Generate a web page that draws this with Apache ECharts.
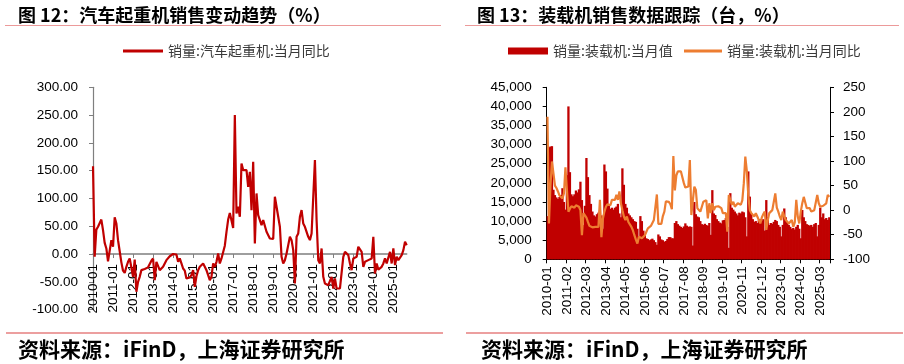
<!DOCTYPE html>
<html><head><meta charset="utf-8">
<script src="https://cdn.jsdelivr.net/npm/echarts/dist/echarts.min.js"></script>
<style>html,body{margin:0;padding:0;background:#fff}#c{width:904px;height:364px}</style>
</head><body><div id="c"></div>
<script>
// ---- categories ----
const startYear = 2010, monthCount = 189;
const months = [];
for (let i = 0; i < monthCount; i++) {
  const y = startYear + Math.floor(i / 12), m = i % 12 + 1;
  months.push(y + '-' + (m < 10 ? '0' : '') + m);
}
// ---- series values ----
const craneYoY = [
158,-5,44,49,50,62,43,20,10,-13,-12,25,
13,66,55,25,5,-15,-30,-34,-23,-14,-8,-5,
-41,-10,-68,-50,-41,-29,-26,-27,-29,-24,-23,-12,
-8,-47,-14,-17,-29,-32,-23,-17,-11,-8,-4,-2,
0,-2,-1,-14,-8,-17,-26,-30,-44,-44,-42,-38,
-29,-59,-40,-29,-23,-25,-17,-23,-29,-30,-47,-41,
-17,-23,-14,1,-17,-8,-5,15,40,62,74,72,
47,250,73,85,67,163,151,154,151,121,148,79,
166,19,109,70,70,52,61,61,40,37,28,26,
27,103,85,67,49,-5,-17,-11,1,16,31,25,
7,-53,31,37,67,79,55,49,49,31,25,37,
34,169,61,-11,-17,10,-41,-53,-56,-56,-56,-41,
-62,-44,-62,-65,-62,-65,-5,4,4,-2,-17,-29,
-8,-11,-5,13,13,4,-23,-14,-14,-11,-11,-8,
31,-35,-17,-28,-26,-23,-17,-8,-17,-14,4,-17,
10,-20,-5,-11,-8,-2,7,22,16];
const loaderSales = [
11300,29300,29500,29600,18200,16800,16200,15800,16300,16800,18600,15000,
13000,22000,40000,22800,17000,16500,17000,18000,17500,18300,20300,15500,
9000,14000,26500,21500,16800,14500,12500,11500,11200,11800,12200,12800,
11500,8000,24800,23000,18500,14000,13200,13500,13000,13500,13800,14500,
12000,11000,23800,19500,14500,13500,12000,11500,11000,10500,10000,9800,
8000,6000,11300,10000,7500,6500,5500,5300,5000,5200,5400,5000,
4500,3800,6500,6000,5200,5000,4600,4800,5300,5800,5800,5500,
5500,9500,10000,9200,8800,8500,8200,8600,9400,8800,8500,8600,
8500,3600,15000,11800,11200,11000,10000,9200,9000,9300,9000,8800,
9500,6400,18100,12000,11600,10500,10000,9600,9400,10200,10300,10800,
8500,3000,17300,13500,13000,12500,12000,11500,12200,12000,12500,12300,
11000,6000,23000,16400,12000,10500,9800,10000,9500,10200,10500,10000,
10500,7500,15500,11000,9000,9500,9300,9800,10300,10000,9000,8500,
6000,9000,13300,11000,9500,9000,8500,8000,8200,7800,8500,9000,
8000,5500,12900,11000,10000,9200,9000,8800,9000,8500,9200,9500,
6000,9000,13500,11000,12000,10500,10800,10300,11000];
const loaderYoY = [
190,-27,50,99,75,50,45,38,30,26,24,34,
87,41,-3,3,8,7,5,10,8,7,0,-51,
-6,-9,-15,-24,-32,-34,-35,-37,-34,-37,-34,21,
-55,-17,-3,7,12,14,10,21,18,21,31,21,
38,14,0,-13,-20,-13,-24,-20,-34,-41,-51,-60,
-68,-54,-54,-57,-57,-51,-44,-37,-34,-32,-30,-20,
-17,32,-28,-32,-28,-12,-3,18,15,17,12,2,
110,40,71,79,77,79,75,55,46,44,48,102,
-10,20,48,41,4,7,-3,7,17,20,20,-17,
14,-6,14,0,7,4,8,11,4,-6,-3,-6,
-44,31,27,11,17,7,10,14,11,11,20,55,
109,80,30,0,-6,-10,-13,-6,-13,-20,-27,-15,
-8,-3,-40,-20,-6,-3,0,0,34,5,-3,-13,
-20,-3,-13,-20,-24,-27,-24,-20,-34,-25,21,-13,
-27,-3,14,27,24,4,7,4,-3,-2,0,4,
31,14,7,11,9,7,14,31,27];
// ---- tick settings ----
const craneAxis = [-100, 300, 50];
const salesAxis = [0, 45000, 5000];
const yoyAxis = [-100, 250, 50];
const craneLabelEvery = 12, loaderLabelEvery = 13;

const nameCrane = '销量:汽车起重机:当月同比';
const nameSales = '销量:装载机:当月值';
const nameYoY = '销量:装载机:当月同比';

const axisFont = 'Liberation Sans';
const cjk = '"Noto Sans CJK SC"';
const fmtThousands = v => String(v).replace(/\B(?=(\d{3})+(?!\d))/g, ',');

const craneGridH = 222.3;
// distance from grid bottom (min) up to the zero line
const zeroOffset = -craneGridH * (0 - craneAxis[0]) / (craneAxis[1] - craneAxis[0]);

const chart = echarts.init(document.getElementById('c'));
chart.setOption({
  animation: false,
  backgroundColor: '#fff',
  grid: [
    {left: 93, top: 87.3, width: 313.7, height: craneGridH, containLabel: false, outerBoundsMode: 'none'},
    {left: 546.7, top: 87.3, width: 283.3, height: 172, containLabel: false, outerBoundsMode: 'none'}
  ],
  legend: [
    {data: [nameCrane], left: 123, top: 44, padding: 0, icon: 'rect', itemWidth: 40, itemHeight: 3,
     textStyle: {fontSize: 14, color: '#3a3a3a', fontFamily: cjk}},
    {data: [nameSales], left: 508, top: 44, padding: 0, icon: 'rect', itemWidth: 40, itemHeight: 7,
     textStyle: {fontSize: 14, color: '#3a3a3a', fontFamily: cjk}},
    {data: [nameYoY], left: 684, top: 44, padding: 0, icon: 'rect', itemWidth: 38, itemHeight: 3,
     textStyle: {fontSize: 14, color: '#3a3a3a', fontFamily: cjk}}
  ],
  xAxis: [
    {type: 'category', gridIndex: 0, data: months, boundaryGap: false, position: 'bottom', offset: zeroOffset,
     axisLine: {onZero: false, lineStyle: {color: '#7f7f7f', width: 1.5}},
     axisTick: {show: true, interval: craneLabelEvery - 1, length: 4, lineStyle: {color: '#7f7f7f'}},
     axisLabel: {interval: craneLabelEvery - 1, rotate: 90, margin: 10, fontSize: 13.5, color: '#000', fontFamily: axisFont},
     splitLine: {show: false}},
    {type: 'category', gridIndex: 1, data: months, boundaryGap: true, position: 'bottom',
     axisLine: {onZero: false, lineStyle: {color: '#000', width: 1}},
     axisTick: {show: true, interval: loaderLabelEvery - 1, length: 4, lineStyle: {color: '#000'}},
     axisLabel: {interval: loaderLabelEvery - 1, rotate: 90, margin: 7, fontSize: 13.5, color: '#000', fontFamily: axisFont},
     splitLine: {show: false}}
  ],
  yAxis: [
    {type: 'value', gridIndex: 0, min: craneAxis[0], max: craneAxis[1], interval: craneAxis[2],
     axisLine: {show: true, lineStyle: {color: '#7f7f7f', width: 1.2}},
     axisTick: {show: true, length: 4, lineStyle: {color: '#7f7f7f'}},
     axisLabel: {margin: 15, fontSize: 13.5, color: '#000', fontFamily: axisFont, formatter: v => v.toFixed(2)},
     splitLine: {show: false}},
    {type: 'value', gridIndex: 1, min: salesAxis[0], max: salesAxis[1], interval: salesAxis[2],
     axisLine: {show: true, lineStyle: {color: '#000', width: 1}},
     axisTick: {show: true, length: 4, lineStyle: {color: '#000'}},
     axisLabel: {margin: 15, fontSize: 13.5, color: '#000', fontFamily: axisFont, formatter: fmtThousands},
     splitLine: {show: false}},
    {type: 'value', gridIndex: 1, position: 'right', min: yoyAxis[0], max: yoyAxis[1], interval: yoyAxis[2],
     axisLine: {show: true, lineStyle: {color: '#000', width: 1}},
     axisTick: {show: true, length: 4, lineStyle: {color: '#000'}},
     axisLabel: {margin: 13, fontSize: 13.5, color: '#000', fontFamily: axisFont},
     splitLine: {show: false}}
  ],
  series: [
    {name: nameCrane, type: 'line', xAxisIndex: 0, yAxisIndex: 0, data: craneYoY,
     showSymbol: false, symbol: 'none', lineStyle: {color: '#c00000', width: 2.2}, itemStyle: {color: '#c00000'}},
    {name: nameSales, type: 'bar', xAxisIndex: 1, yAxisIndex: 1, data: loaderSales,
     barWidth: 2.3, itemStyle: {color: '#c00000'}},
    {name: nameYoY, type: 'line', xAxisIndex: 1, yAxisIndex: 2, data: loaderYoY,
     showSymbol: false, symbol: 'none', lineStyle: {color: '#ed7d31', width: 2.2}, itemStyle: {color: '#ed7d31'}}
  ],
  graphic: [
    {type: 'text', x: 18, y: 15, style: {text: '图 12：汽车起重机销售变动趋势（%）', font: 'bold 18px ' + cjk, fill: '#000', verticalAlign: 'middle'}},
    {type: 'text', x: 477, y: 15, style: {text: '图 13：装载机销售数据跟踪（台，%）', font: 'bold 18px ' + cjk, fill: '#000', verticalAlign: 'middle'}},
    {type: 'line', shape: {x1: 5, y1: 25.5, x2: 441, y2: 25.5}, style: {stroke: '#ec9a9a', lineWidth: 1}},
    {type: 'line', shape: {x1: 465, y1: 25.5, x2: 899, y2: 25.5}, style: {stroke: '#ec9a9a', lineWidth: 1}},
    {type: 'line', shape: {x1: 6, y1: 333, x2: 443, y2: 333}, style: {stroke: '#d94040', lineWidth: 1.2}},
    {type: 'line', shape: {x1: 466, y1: 333, x2: 903, y2: 333}, style: {stroke: '#d94040', lineWidth: 1.2}},
    {type: 'text', x: 18, y: 349, style: {text: '资料来源：iFinD，上海证券研究所', font: 'bold 21px ' + cjk, fill: '#000', verticalAlign: 'middle'}},
    {type: 'text', x: 481, y: 349, style: {text: '资料来源：iFinD，上海证券研究所', font: 'bold 21px ' + cjk, fill: '#000', verticalAlign: 'middle'}}
  ]
});
</script></body></html>
